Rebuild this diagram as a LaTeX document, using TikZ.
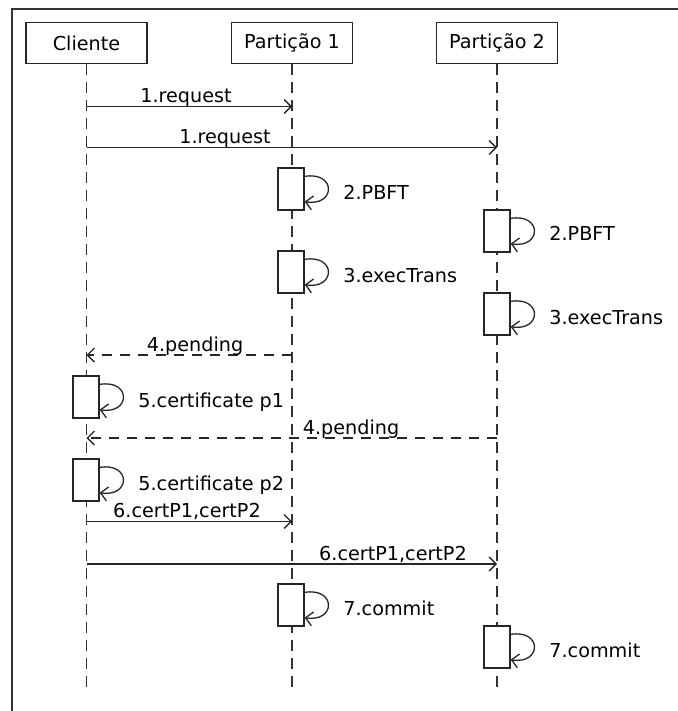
\documentclass[tikz,border=0pt]{standalone}
\usepackage{fontspec}
\setmainfont{DejaVu Sans}
\usetikzlibrary{arrows.meta}

\begin{document}
\begin{tikzpicture}[x=0.5pt,y=-0.5pt,
  every node/.style={font=\fontsize{9.6}{11.5}\selectfont, text=black},
  frame/.style={draw=black!80, line width=1pt},
  actor/.style={draw=black!85, line width=0.65pt, rectangle, minimum width=60.5pt,
    minimum height=20.5pt, inner sep=0pt},
  lifeline/.style={draw=black!80, line width=0.65pt, dash pattern=on 5.5pt off 3.5pt},
  actbox/.style={draw=black!85, fill=white, line width=0.65pt, rectangle,
    minimum width=13pt, minimum height=21pt, inner sep=0pt},
  msg/.style={draw=black!85, line width=0.65pt,
    -{Straight Barb[length=3.5pt,width=7pt,line width=0.65pt]}},
  reply/.style={msg, dash pattern=on 5pt off 4pt},
  msglabel/.style={anchor=base, inner sep=0pt},
  note/.style={anchor=base west, inner sep=0pt}]

% canvas and outer frame (its right and bottom sides lie off the page)
\useasboundingbox (0,0) rectangle (678,711);
\draw[frame] (12,720) -- (12,9) -- (690,9);

% participants
\node[actor] (cli) at (86.5,43) {Cliente};
\node[actor] (pa1) at (292,43) {Partição 1};
\node[actor] (pa2) at (497,43) {Partição 2};

% lifelines
\coordinate (cliEnd) at (86.5,689);
\coordinate (pa1End) at (292,689);
\coordinate (pa2End) at (497,689);
\draw[lifeline] (cli) -- (cliEnd);
\draw[lifeline] (pa1) -- (pa1End);
\draw[lifeline] (pa2) -- (pa2End);

% activation boxes
\node[actbox] (pbft1)   at (291,189) {};
\node[actbox] (pbft2)   at (497,231) {};
\node[actbox] (exec1)   at (291,272) {};
\node[actbox] (exec2)   at (497,314) {};
\node[actbox] (cert1)   at (86,397) {};
\node[actbox] (cert2)   at (86,480) {};
\node[actbox] (commit1) at (291,605) {};
\node[actbox] (commit2) at (497,647) {};

% self messages
\foreach \b in {pbft1,pbft2,exec1,exec2,cert1,cert2,commit1,commit2}
  \draw[msg] ([yshift=-4.5pt]\b.north east) .. controls +(32,-5) and +(31,5)
    .. ([yshift=4.5pt]\b.south east);

\node[note] (lPbft1)   at (343,199) {2.PBFT};
\node[note] (lPbft2)   at (549,241) {2.PBFT};
\node[note] (lExec1)   at (343,282) {3.execTrans};
\node[note] (lExec2)   at (549,324) {3.execTrans};
\node[note] (lCert1)   at (138,407) {5.certificate p1};
\node[note] (lCert2)   at (138,490) {5.certificate p2};
\node[note] (lCommit1) at (343,615) {7.commit};
\node[note] (lCommit2) at (549,657) {7.commit};

% message end points on the lifelines
\coordinate (r1a) at (86.5,106.5); \coordinate (r1b) at (292,106.5);
\coordinate (r2a) at (86.5,147.5); \coordinate (r2b) at (497,147.5);
\coordinate (p1a) at (292,355);    \coordinate (p1b) at (86.5,355);
\coordinate (p2a) at (497,438);    \coordinate (p2b) at (86.5,438);
\coordinate (c1a) at (86.5,521.5); \coordinate (c1b) at (292,521.5);
\coordinate (c2a) at (86.5,564);   \coordinate (c2b) at (497,564);

% messages
\draw[msg]   (r1a) -- (r1b);
\draw[msg]   (r2a) -- (r2b);
\draw[reply] (p1a) -- (p1b);
\draw[reply] (p2a) -- (p2b);
\draw[msg]   (c1a) -- (c1b);
\draw[msg]   (c2a) -- (c2b);

\node[msglabel] (lR1) at (186,102.5) {1.request};
\node[msglabel] (lR2) at (225,143.5) {1.request};
\node[msglabel] (lP1) at (195,351)   {4.pending};
\node[msglabel] (lP2) at (351,434)   {4.pending};
\node[msglabel] (lC1) at (187,517.5) {6.certP1,certP2};
\node[msglabel] (lC2) at (393,560)   {6.certP1,certP2};
\end{tikzpicture}
\end{document}
